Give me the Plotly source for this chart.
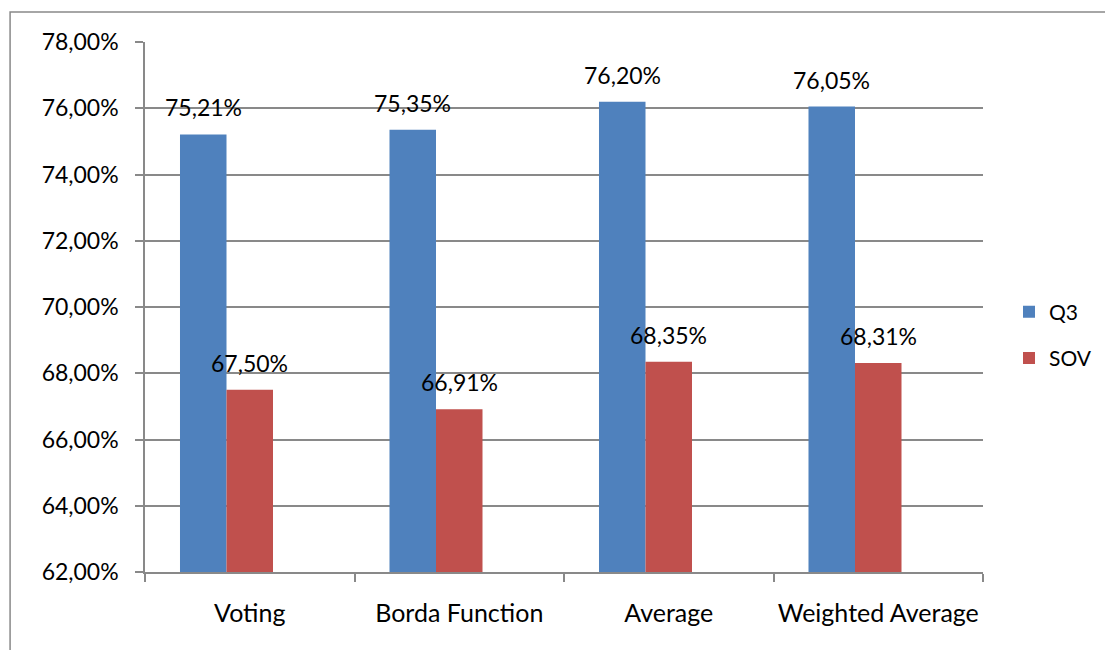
import plotly.graph_objects as go

# Ensemble methods compared on two accuracy measures
methods = ["Voting", "Borda Function", "Average", "Weighted Average"]
q3 = [75.21, 75.35, 76.20, 76.05]
sov = [67.50, 66.91, 68.35, 68.31]
series_names = ["Q3", "SOV"]
series_colors = ["#4F81BD", "#C0504D"]
y_ticks = [62, 64, 66, 68, 70, 72, 74, 76, 78]
y_floor = 62


def pct(v):
    return f"{v:.2f}".replace(".", ",") + "%"


FONT = "Lato, Carlito, Calibri, sans-serif"
GRID = "#898989"

# bar geometry in category units: three slots per group, the third left empty
BAR_W = 0.222
offsets = [-0.333, -0.333 + BAR_W]

fig = go.Figure()
for name, vals, color, off in zip(series_names, [q3, sov], series_colors, offsets):
    fig.add_trace(go.Bar(
        x=methods, y=[v - y_floor for v in vals], base=y_floor,
        name=name, marker_color=color, marker_line_width=0,
        width=BAR_W, offset=off, legendgroup=name,
        hoverinfo="skip",
    ))

# value labels above each bar
cat_px = 838 / len(methods)
for vals, off in zip([q3, sov], offsets):
    shift = (off + BAR_W / 2) * cat_px
    for m, v in zip(methods, vals):
        fig.add_annotation(
            x=m, y=v, text=pct(v), showarrow=False,
            xshift=shift, yshift=27, yanchor="middle",
            font=dict(family=FONT, size=23, color="#000000"),
        )

# outer chart frame
fig.add_shape(type="rect", xref="paper", yref="paper",
              x0=-0.161, x1=1.3, y0=-0.3, y1=1.0566,
              line=dict(color=GRID, width=1.5), fillcolor="rgba(0,0,0,0)")

fig.update_layout(
    width=1105, height=650,
    margin=dict(l=145, r=122, t=42, b=78, autoexpand=False),
    paper_bgcolor="white", plot_bgcolor="white",
    barmode="overlay",
    font=dict(family=FONT, size=23, color="#000000"),
    legend=dict(xref="container", yref="container",
                x=1009 / 1105, y=(650 - 335) / 650,
                xanchor="left", yanchor="middle",
                font=dict(size=21), itemwidth=30,
                traceorder="grouped", tracegroupgap=16),
    showlegend=True,
)

fig.update_xaxes(
    type="category", range=[-0.5, len(methods) - 0.5],
    showline=True, linecolor=GRID, linewidth=1.5,
    ticks="outside", tickson="boundaries", ticklen=8, tickcolor=GRID,
    tickwidth=1.5, showgrid=False, ticklabelstandoff=18,
    tickangle=0, tickfont=dict(size=25),
)
fig.update_yaxes(
    range=[62, 78], tickvals=y_ticks, ticktext=[pct(t) for t in y_ticks],
    showline=True, linecolor=GRID, linewidth=1.5,
    ticks="outside", ticklen=8, tickcolor=GRID, tickwidth=1.5,
    showgrid=True, gridcolor=GRID, gridwidth=1.5,
    zeroline=False, ticklabelstandoff=12,
    tickfont=dict(size=23),
)

fig.write_html("out.html")
